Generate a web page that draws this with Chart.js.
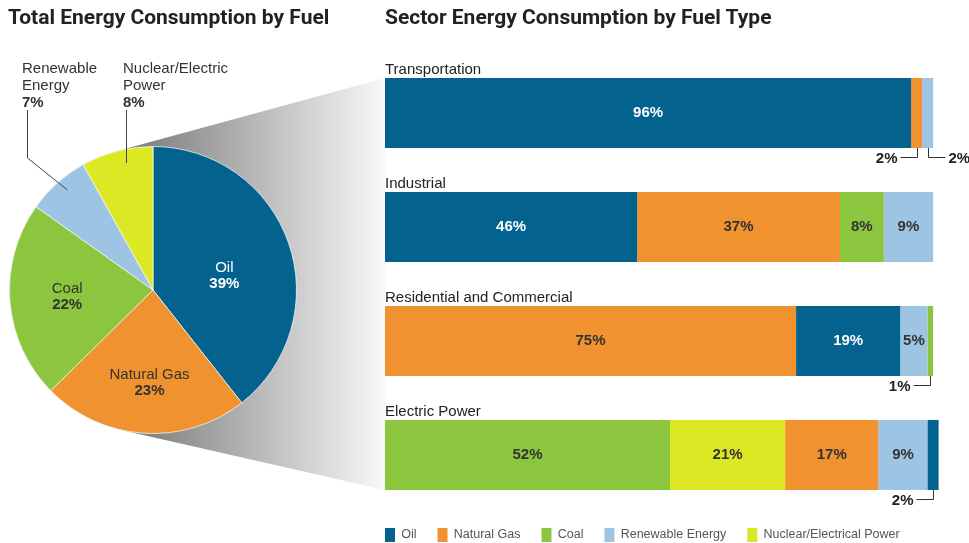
<!DOCTYPE html>
<html>
<head>
<meta charset="utf-8">
<title>Energy Consumption by Fuel</title>
<script src="https://cdn.jsdelivr.net/npm/chart.js@4.4.0/dist/chart.umd.min.js"></script>
<style>
  html, body { margin: 0; padding: 0; background: #fff; overflow: hidden; }
  body { width: 969px; height: 543px; position: relative; }
  .title {
    position: absolute; top: 7px; white-space: nowrap; color: #222;
    font: bold 21px/21px 'Liberation Sans Narrow', 'Roboto', sans-serif;
  }
  #pieChart { position: absolute; left: 0; top: 0; }
  #sectorChart { position: absolute; left: 364px; top: 0; }
</style>
</head>
<body>
<canvas id="pieChart" width="385" height="543"></canvas>
<canvas id="sectorChart" width="605" height="557"></canvas>
<div class="title" style="left:8px">Total Energy Consumption by Fuel</div>
<div class="title" style="left:385px">Sector Energy Consumption by Fuel Type</div>

<script>
const fuels = ['Oil', 'Natural Gas', 'Coal', 'Renewable Energy', 'Nuclear/Electrical Power'];
const fuelColors = ['#04628f', '#ef922f', '#8cc63f', '#9ec4e4', '#dde824'];

// share of total consumption (%), same order as fuels
const totalShare = [39, 23, 22, 7, 8];
const pieNames = ['Oil', 'Natural Gas', 'Coal', 'Renewable\nEnergy', 'Nuclear/Electric\nPower'];

// sector shares (%) per fuel
const sectors = ['Transportation', 'Industrial', 'Residential and Commercial', 'Electric Power'];
const oilShare = [96, 46, 19, 2];
const gasShare = [2, 37, 75, 17];
const coalShare = [0, 8, 1, 52];
const renewableShare = [2, 9, 5, 9];
const nuclearShare = [0, 0, 0, 21];
// left-to-right segment order of each sector bar (indices into fuels)
const sectorOrder = [[0, 1, 3], [0, 1, 2, 3], [1, 0, 3, 2], [2, 4, 1, 3, 0]];

const bodyFont = "'Liberation Sans', Arial, sans-serif";
const shares = [oilShare, gasShare, coalShare, renewableShare, nuclearShare];

// turn each sector's shares into floating [start, end] ranges
const ranges = fuels.map(() => sectors.map(() => null));
sectorOrder.forEach((order, s) => {
    let start = 0;
    order.forEach(f => {
        ranges[f][s] = [start, start + shares[f][s]];
        start += shares[f][s];
    });
});

// Sector names above the bars and the percentage labels
const sectorLabels = {
    id: 'sectorLabels',
    afterDatasetsDraw(chart) {
        const { ctx, chartArea } = chart;
        ctx.save();
        sectors.forEach((name, s) => {
            const el = chart.getDatasetMeta(sectorOrder[s][0]).data[s];
            ctx.font = `15px ${bodyFont}`;
            ctx.fillStyle = '#222';
            ctx.textAlign = 'left';
            ctx.textBaseline = 'bottom';
            ctx.fillText(name, chartArea.left, el.y - el.height / 2 - 1);
        });

        sectorOrder.forEach((order, s) => {
            order.forEach((f, k) => {
                const el = chart.getDatasetMeta(f).data[s];
                const v = shares[f][s];
                const mid = (el.x + el.base) / 2;
                ctx.font = `bold 15px ${bodyFont}`;
                if (v > 2) {
                    ctx.fillStyle = f === 0 ? '#fff' : '#333';
                    ctx.textAlign = 'center';
                    ctx.textBaseline = 'middle';
                    ctx.fillText(v + '%', mid, el.y);
                } else {
                    // tiny segment: label below with a leader line
                    const bottom = el.y + el.height / 2;
                    const ly = Math.round(bottom + 9) + 0.5;
                    const lx = Math.round(mid) + 0.5;
                    const toRight = k > 0 && shares[order[k - 1]][s] <= 2;
                    const dir = toRight ? 1 : -1;
                    const endX = lx + dir * 17;
                    ctx.strokeStyle = '#333';
                    ctx.lineWidth = 1;
                    ctx.beginPath();
                    ctx.moveTo(lx, bottom);
                    ctx.lineTo(lx, ly);
                    ctx.lineTo(endX, ly);
                    ctx.stroke();
                    ctx.fillStyle = '#222';
                    ctx.textAlign = toRight ? 'left' : 'right';
                    ctx.textBaseline = 'middle';
                    ctx.fillText(v + '%', endX + dir * 3, ly + 1);
                }
            });
        });
        ctx.restore();
    }
};

// pull the legend row a little closer to the last bar
const legendLift = {
    id: 'legendLift',
    afterLayout(chart) {
        chart.legend.top -= 5;
        chart.legend.bottom -= 5;
    }
};

const sectorChart = new Chart(document.getElementById('sectorChart'), {
    type: 'bar',
    data: {
        labels: sectors,
        datasets: fuels.map((name, f) => ({
            label: name,
            data: ranges[f],
            backgroundColor: fuelColors[f],
            borderWidth: 0,
            grouped: false,
            categoryPercentage: 1,
            barPercentage: 0.614
        }))
    },
    options: {
        indexAxis: 'y',
        responsive: false,
        animation: false,
        layout: { padding: { top: 56, right: 3, left: 0, bottom: 0 } },
        scales: {
            x: { display: false, min: 0, max: 106 },
            y: {
                display: true,
                grid: { display: false },
                border: { display: false },
                ticks: { display: false },
                afterFit: scale => { scale.width = 21; }
            }
        },
        plugins: {
            legend: {
                position: 'bottom',
                align: 'start',
                labels: {
                    boxWidth: 10,
                    boxHeight: 14,
                    padding: 21,
                    color: '#555',
                    font: { size: 12.5, family: bodyFont }
                }
            },
            tooltip: { enabled: false }
        }
    },
    plugins: [sectorLabels, legendLift]
});

// Grey funnel from the pie out to the sector bars
const wedge = {
    id: 'wedge',
    beforeDatasetsDraw(chart) {
        const arc = chart.getDatasetMeta(0).data[0];
        const cx = arc.x, cy = arc.y, r = arc.outerRadius;
        const last = sectors.length - 1;
        const firstBar = sectorChart.getDatasetMeta(sectorOrder[0][0]).data[0];
        const lastBar = sectorChart.getDatasetMeta(sectorOrder[last][0]).data[last];
        const top = { x: chart.width, y: firstBar.y - firstBar.height / 2 };
        const bot = { x: chart.width, y: lastBar.y + lastBar.height / 2 };
        const tangent = (p, sign) => {
            const dx = p.x - cx, dy = p.y - cy;
            return Math.atan2(dy, dx) + sign * Math.acos(r / Math.hypot(dx, dy));
        };
        const ctx = chart.ctx;
        const g = ctx.createLinearGradient(cx, 0, chart.width, 0);
        g.addColorStop(0, '#858585');
        g.addColorStop(1, '#f8f8f8');
        ctx.save();
        ctx.beginPath();
        ctx.moveTo(top.x, top.y);
        ctx.arc(cx, cy, r, tangent(top, -1), tangent(bot, 1), true);
        ctx.lineTo(bot.x, bot.y);
        ctx.closePath();
        ctx.fillStyle = g;
        ctx.fill();
        ctx.restore();
    }
};

// Slice names and percentages, inside or called out above the pie
const pieLabels = {
    id: 'pieLabels',
    afterDatasetsDraw(chart, args, opts) {
        const ctx = chart.ctx;
        ctx.save();
        chart.getDatasetMeta(0).data.forEach((arc, i) => {
            const lines = pieNames[i].split('\n');
            const pct = totalShare[i] + '%';
            const color = i === 0 ? '#fff' : '#333';
            const callout = opts.callouts[i];
            if (!callout) {
                const mid = (arc.startAngle + arc.endAngle) / 2;
                const nudge = opts.nudge[i] || [0, 0];
                const x = arc.x + Math.cos(mid) * arc.outerRadius * 0.6 + nudge[0];
                const y = arc.y + Math.sin(mid) * arc.outerRadius * 0.6 + nudge[1];
                const n = lines.length + 1;
                ctx.textAlign = 'center';
                ctx.textBaseline = 'middle';
                ctx.fillStyle = color;
                lines.forEach((t, k) => {
                    ctx.font = `15px ${bodyFont}`;
                    ctx.fillText(t, x, y + (k - (n - 1) / 2) * 16);
                });
                ctx.font = `bold 15px ${bodyFont}`;
                ctx.fillText(pct, x, y + (n - 1 - (n - 1) / 2) * 16);
            } else {
                const cx = arc.x, cy = arc.y;
                ctx.strokeStyle = '#444';
                ctx.lineWidth = 1;
                ctx.beginPath();
                callout.leader.forEach(([dx, dy], k) => {
                    const px = Math.round(cx + dx) + 0.5, py = cy + dy;
                    if (k === 0) ctx.moveTo(px, py); else ctx.lineTo(px, py);
                });
                ctx.stroke();
                ctx.textAlign = 'left';
                ctx.textBaseline = 'alphabetic';
                ctx.fillStyle = '#333';
                const tx = cx + callout.textX;
                let ty = cy + opts.calloutTop;
                lines.forEach(t => {
                    ctx.font = `15px ${bodyFont}`;
                    ctx.fillText(t, tx, ty);
                    ty += 17;
                });
                ctx.font = `bold 15px ${bodyFont}`;
                ctx.fillText(pct, tx, ty);
            }
        });
        ctx.restore();
    }
};

const pieChart = new Chart(document.getElementById('pieChart'), {
    type: 'pie',
    data: {
        labels: fuels,
        datasets: [{
            data: totalShare,
            backgroundColor: fuelColors,
            borderColor: 'rgba(255,255,255,0.7)',
            borderWidth: 1,
            hoverOffset: 0
        }]
    },
    options: {
        responsive: false,
        animation: false,
        layout: { padding: { left: 9, right: 88, top: 146, bottom: 109 } },
        plugins: {
            legend: { display: false },
            tooltip: { enabled: false },
            pieLabels: {
                calloutTop: -217,
                nudge: { 0: [-10, 14], 1: [2, 7] },
                callouts: {
                    3: { textX: -131, leader: [[-86, -100], [-126, -132], [-126, -180]] },
                    4: { textX: -30, leader: [[-27, -127], [-27, -180]] }
                }
            }
        }
    },
    plugins: [wedge, pieLabels]
});
</script>
</body>
</html>
